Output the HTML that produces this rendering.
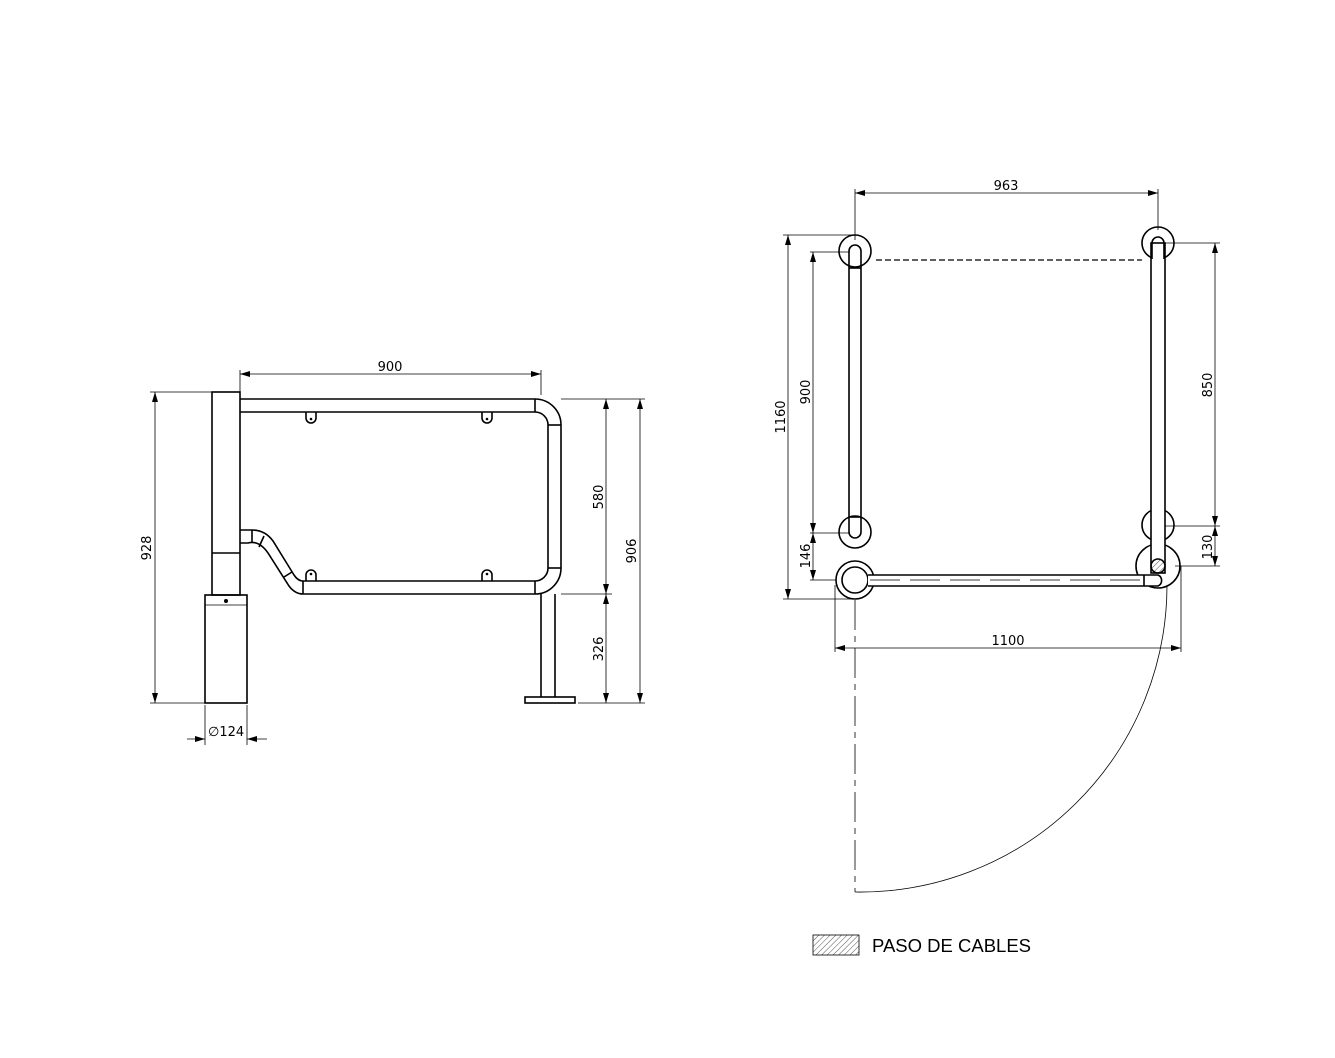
<!DOCTYPE html>
<html><head><meta charset="utf-8"><style>html,body{margin:0;padding:0;background:#fff}svg{display:block}</style></head>
<body>
<svg width="1335" height="1058" viewBox="0 0 1335 1058" xmlns="http://www.w3.org/2000/svg" font-family="'DejaVu Sans','Liberation Sans',sans-serif" font-size="13">
<defs>
<marker id="a" viewBox="0 0 10 6" refX="10" refY="3" markerWidth="10" markerHeight="6" orient="auto-start-reverse" markerUnits="userSpaceOnUse"><path d="M0,0L10,3L0,6z" fill="#000"/></marker>
<pattern id="h" width="4" height="4" patternUnits="userSpaceOnUse" patternTransform="rotate(45)"><line x1="0" y1="0" x2="0" y2="4" stroke="#555" stroke-width="1"/></pattern>
</defs>
<g stroke="#000" fill="none">
<g stroke-width="0.8">
<line x1="240" y1="370" x2="240" y2="395"/><line x1="541" y1="370" x2="541" y2="395"/>
<line x1="240" y1="374" x2="541" y2="374" marker-start="url(#a)" marker-end="url(#a)"/>
<line x1="150" y1="392" x2="212" y2="392"/><line x1="150" y1="703" x2="205" y2="703"/>
<line x1="155" y1="392" x2="155" y2="703" marker-start="url(#a)" marker-end="url(#a)"/>
<line x1="561" y1="399" x2="645" y2="399"/><line x1="561" y1="594" x2="612" y2="594"/><line x1="578" y1="703" x2="645" y2="703"/>
<line x1="606" y1="399" x2="606" y2="594" marker-start="url(#a)" marker-end="url(#a)"/>
<line x1="606" y1="594" x2="606" y2="703" marker-start="url(#a)" marker-end="url(#a)"/>
<line x1="640" y1="399" x2="640" y2="703" marker-start="url(#a)" marker-end="url(#a)"/>
<line x1="205" y1="705" x2="205" y2="745"/><line x1="247" y1="705" x2="247" y2="745"/>
<line x1="187" y1="739" x2="205" y2="739" marker-end="url(#a)"/><line x1="267" y1="739" x2="247" y2="739" marker-end="url(#a)"/>
</g>
<g stroke-width="1.6">
<rect x="212" y="392" width="28" height="203"/>
<line x1="212" y1="553" x2="240" y2="553"/>
<rect x="205" y="595" width="42" height="108"/>
<line x1="205" y1="605" x2="247" y2="605" stroke-width="0.8"/>
<path d="M240,399 H535 A26,26 0 0 1 561,425 V568 A26,26 0 0 1 535,594 H303 Q295,594 289,586 L268,553 Q259,540 248,543 H240"/>
<path d="M240,412 H535 A13,13 0 0 1 548,425 V568 A13,13 0 0 1 535,581 H303 Q298,581 294,575 L273,541 Q265,530 252,530 H240"/>
<line x1="535" y1="399" x2="535" y2="412"/><line x1="548" y1="425" x2="561" y2="425"/>
<line x1="548" y1="568" x2="561" y2="568"/><line x1="535" y1="581" x2="535" y2="594"/>
<line x1="303" y1="581" x2="303" y2="594"/><line x1="252" y1="530" x2="252" y2="543"/>
<line x1="264" y1="536" x2="259" y2="547"/><line x1="284" y1="577" x2="292" y2="572"/>
<line x1="541" y1="594" x2="541" y2="697"/><line x1="555" y1="594" x2="555" y2="697"/>
<rect x="525" y="697" width="50" height="6"/>
<path d="M306,412 V418 A5,5 0 0 0 316,418 V412"/><path d="M482,412 V418 A5,5 0 0 0 492,418 V412"/>
<path d="M306,581 V575 A5,5 0 0 1 316,575 V581"/><path d="M482,581 V575 A5,5 0 0 1 492,575 V581"/>
</g>
<g fill="#000" stroke="none"><circle cx="226" cy="601" r="2"/><circle cx="311" cy="419" r="1.3"/><circle cx="487" cy="419" r="1.3"/><circle cx="311" cy="574" r="1.3"/><circle cx="487" cy="574" r="1.3"/></g>

<g stroke-width="0.8">
<line x1="855" y1="189" x2="855" y2="240"/><line x1="1158" y1="189" x2="1158" y2="230"/>
<line x1="855" y1="193" x2="1158" y2="193" marker-start="url(#a)" marker-end="url(#a)"/>
<line x1="783" y1="235" x2="855" y2="235"/><line x1="783" y1="599" x2="855" y2="599"/>
<line x1="788" y1="235" x2="788" y2="599" marker-start="url(#a)" marker-end="url(#a)"/>
<line x1="810" y1="252" x2="850" y2="252"/><line x1="810" y1="533" x2="850" y2="533"/><line x1="810" y1="580" x2="840" y2="580"/>
<line x1="813" y1="252" x2="813" y2="533" marker-start="url(#a)" marker-end="url(#a)"/>
<line x1="813" y1="533" x2="813" y2="580" marker-start="url(#a)" marker-end="url(#a)"/>
<line x1="1164" y1="243" x2="1220" y2="243"/><line x1="1164" y1="526" x2="1220" y2="526"/><line x1="1175" y1="566" x2="1220" y2="566"/>
<line x1="1215" y1="243" x2="1215" y2="526" marker-start="url(#a)" marker-end="url(#a)"/>
<line x1="1215" y1="526" x2="1215" y2="566" marker-start="url(#a)" marker-end="url(#a)"/>
<line x1="835" y1="585" x2="835" y2="652"/><line x1="1181" y1="566" x2="1181" y2="652"/>
<line x1="835" y1="648" x2="1181" y2="648" marker-start="url(#a)" marker-end="url(#a)"/>
<line x1="855" y1="600" x2="855" y2="892" stroke-dasharray="30,6,6,6"/>
<path d="M855,892 A307,307 0 0 0 1167,585"/>
<line x1="876" y1="260" x2="1142" y2="260" stroke-width="1.2" stroke-dasharray="6,3"/>
</g>
<g stroke-width="1.6">
<circle cx="855" cy="251" r="16"/><circle cx="855" cy="532" r="16"/>
<path d="M849,532 V251 A6,6 0 0 1 861,251 V532 A6,6 0 0 1 849,532"/>
<line x1="849" y1="268" x2="861" y2="268"/><line x1="849" y1="517" x2="861" y2="517"/>
<circle cx="1158" cy="243" r="16"/><circle cx="1158" cy="525" r="16"/><circle cx="1158" cy="566" r="22"/>
<rect x="1151" y="243" width="14" height="330" fill="#fff"/>
<path d="M1152,259 V243 A6,6 0 0 1 1164,243 V259"/>
<circle cx="855" cy="580" r="19" fill="#fff"/><circle cx="855" cy="580" r="13"/>
<path d="M868,575 H1158 A6,6 0 0 1 1158,586 H868" fill="#fff"/>
<line x1="1144" y1="575" x2="1144" y2="586"/>
<circle cx="1158" cy="566" r="7" fill="url(#h)"/>
</g>
<line x1="870" y1="580" x2="1140" y2="580" stroke-width="0.8" stroke-dasharray="30,10"/>
<rect x="813" y="935" width="46" height="20" stroke-width="0.8" fill="url(#h)"/>
</g>
<g fill="#000" font-size="13">
<text x="390" y="371" text-anchor="middle">900</text>
<text transform="translate(151,548) rotate(-90)" text-anchor="middle">928</text>
<text transform="translate(603,497) rotate(-90)" text-anchor="middle">580</text>
<text transform="translate(603,649) rotate(-90)" text-anchor="middle">326</text>
<text transform="translate(636,551) rotate(-90)" text-anchor="middle">906</text>
<text x="208" y="736">∅124</text>
<text x="1006" y="190" text-anchor="middle">963</text>
<text transform="translate(785,417) rotate(-90)" text-anchor="middle">1160</text>
<text transform="translate(810,392) rotate(-90)" text-anchor="middle">900</text>
<text transform="translate(810,556) rotate(-90)" text-anchor="middle">146</text>
<text transform="translate(1212,385) rotate(-90)" text-anchor="middle">850</text>
<text transform="translate(1212,547) rotate(-90)" text-anchor="middle">130</text>
<text x="1008" y="645" text-anchor="middle">1100</text>
<text x="872" y="952" font-size="18.5" font-family="'Liberation Sans',sans-serif">PASO DE CABLES</text>
</g>
</svg>
</body></html>
